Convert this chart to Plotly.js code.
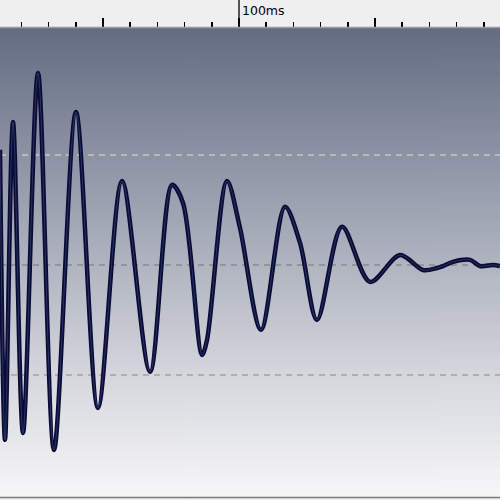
<!DOCTYPE html>
<html>
<head>
<meta charset="utf-8">
<script src="https://cdn.plot.ly/plotly-3.0.1.min.js"></script>
<style>html,body{margin:0;padding:0;background:#efefef;}#chart{width:500px;height:500px;}</style>
</head>
<body>
<div id="chart"></div>
<script>
// time in ms, amplitude (dashed guides at +/-0.5)
var timeMs = [12.13, 13.97, 16.91, 20.59, 26.10, 31.99, 40.07, 48.16, 56.99, 67.28,
  75.37, 79.41, 86.40, 88.24, 95.59, 100.37, 108.09, 116.91, 122.43, 128.68,
  137.87, 148.16, 159.19, 167.65, 172.79, 175.0, 178.68, 184.93, 188.6, 193.38, 195.96];
var amplitude = [0.523, -0.795, 0.650, -0.764, 0.873, -0.841, 0.695, -0.650, 0.382, -0.486,
  0.364, 0.282, -0.409, -0.341, 0.382, 0.168, -0.295, 0.264, 0.100, -0.250,
  0.173, -0.077, 0.045, -0.023, -0.014, -0.005, 0.014, 0.023, -0.005, 0.0, -0.005];
var guideLevels = [0.5, 0, -0.5];
var guideColors = ['#cac7bd', '#8a8a86', '#a2a29c'];
var labelTime = 100;
var labelText = '100ms';

// gradient background image
var cv = document.createElement('canvas');
cv.width = 4; cv.height = 470;
var ctx = cv.getContext('2d');
var g = ctx.createLinearGradient(0, 0, 0, 470);
g.addColorStop(0, '#646c82');
g.addColorStop(0.27, '#8c93a4');
g.addColorStop(0.5, '#b0b4c0');
g.addColorStop(0.74, '#d5d7dd');
g.addColorStop(1, '#f7f7f8');
ctx.fillStyle = g; ctx.fillRect(0, 0, 4, 470);
var bg = cv.toDataURL();

var shapes = guideLevels.map(function (v, i) {
  return {type: 'line', xref: 'paper', x0: 0, x1: 1, yref: 'y', y0: v, y1: v,
    line: {color: guideColors[i], width: 1.5, dash: '6px,5px'}, layer: 'below'};
});
shapes.push({type: 'line', xref: 'x', x0: labelTime, x1: labelTime, yref: 'paper', y0: 1, y1: 1.062,
  line: {color: '#000', width: 1.3}});
shapes.push({type: 'line', xref: 'paper', x0: 0, x1: 1, yref: 'paper', y0: 1.001, y1: 1.001,
  line: {color: '#9a9a9a', width: 1.5}});
shapes.push({type: 'line', xref: 'paper', x0: 0, x1: 1, yref: 'paper', y0: -0.001, y1: -0.001,
  line: {color: '#7a7a7a', width: 1.5}});

var traces = [
  {x: timeMs, y: amplitude, type: 'scatter', mode: 'lines', hoverinfo: 'skip',
    line: {color: '#090a36', width: 4.5, shape: 'spline', smoothing: 0.9}},
  {x: timeMs, y: amplitude, type: 'scatter', mode: 'lines', hoverinfo: 'skip', opacity: 0.35,
    line: {color: '#9fd0ff', width: 0.6, shape: 'spline', smoothing: 0.9}}
];

var layout = {
  width: 500, height: 500,
  margin: {l: 0, r: 0, t: 28, b: 3},
  paper_bgcolor: '#efefef',
  plot_bgcolor: 'rgba(0,0,0,0)',
  showlegend: false,
  xaxis: {range: [12.13, 195.96], side: 'top', showgrid: false, zeroline: false,
    showline: false, ticks: 'outside', tickmode: 'linear', tick0: 0, dtick: 50,
    ticklen: 9, tickwidth: 1.5, tickcolor: '#000', showticklabels: false,
    minor: {ticks: 'outside', tickmode: 'linear', tick0: 0, dtick: 10, ticklen: 5, tickwidth: 1.5, tickcolor: '#000', showgrid: false}},
  yaxis: {range: [-1.055, 1.077], showgrid: false, zeroline: false, showline: false,
    showticklabels: false, ticks: ''},
  images: [{source: bg, xref: 'paper', yref: 'paper', x: 0, y: 1, sizex: 1, sizey: 1,
    sizing: 'stretch', layer: 'below', xanchor: 'left', yanchor: 'top'}],
  shapes: shapes,
  annotations: [{text: labelText, xref: 'x', x: labelTime, xanchor: 'left', xshift: 1,
    yref: 'paper', y: 1.038, yanchor: 'middle', showarrow: false,
    font: {family: 'DejaVu Sans', size: 12.5, color: '#000'}}]
};

Plotly.newPlot('chart', traces, layout, {staticPlot: true, displayModeBar: false});
</script>
</body>
</html>
